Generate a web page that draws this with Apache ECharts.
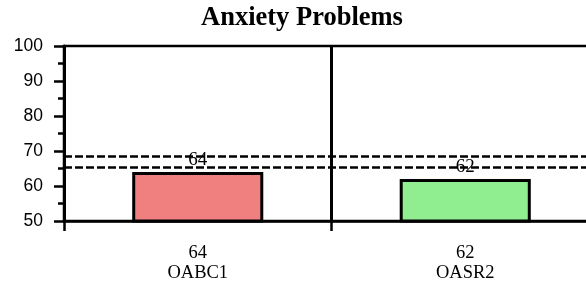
<!DOCTYPE html>
<html>
<head>
<meta charset="utf-8">
<script src="https://cdn.jsdelivr.net/npm/echarts@6/dist/echarts.min.js"></script>
<style>
html,body{margin:0;padding:0;background:#fff;}
#main{width:586px;height:287px;}
</style>
</head>
<body>
<div id="main"></div>
<script>
// data
var categories = ['OABC1', 'OASR2'];
var scores = [64, 62];
var barColors = ['#F08080', '#90EE90'];
var cutoffs = [65.5, 68.6];
var yTicks = [50, 60, 70, 80, 90, 100];

var chartDom = document.getElementById('main');
var myChart = echarts.init(chartDom);

var barData = [];
for (var i = 0; i < scores.length; i++) {
	barData.push({value: scores[i], itemStyle: {color: barColors[i]}});
}
var lines = [];
for (var j = 0; j < cutoffs.length; j++) {
	lines.push({yAxis: cutoffs[j]});
}

var option = {
	animation: false,
	title: {
		text: 'Anxiety Problems',
		left: 196,
		top: 0,
		textStyle: {
			fontFamily: 'Liberation Serif',
			fontWeight: 'bold',
			fontSize: 26.5,
			color: '#000'
		}
	},
	grid: {
		left: 64,
		top: 46,
		width: 535,
		bottom: 66,
		outerBoundsMode: 'none',
		containLabel: false,
		show: true,
		borderColor: '#000',
		borderWidth: 2.5,
		backgroundColor: 'transparent'
	},
	xAxis: {
		type: 'category',
		data: categories,
		axisLine: {lineStyle: {color: '#000', width: 2.5}},
		axisTick: {show: true, length: 10, lineStyle: {color: '#000', width: 2.5}},
		splitLine: {show: true, lineStyle: {color: '#000', width: 3}},
		axisLabel: {
			margin: 22,
			fontFamily: 'Liberation Serif',
			fontSize: 18.5,
			lineHeight: 20,
			color: '#000',
			formatter: function(val, idx) {
				return scores[idx] + '\n' + val;
			}
		}
	},
	yAxis: {
		type: 'value',
		min: yTicks[0],
		max: yTicks[yTicks.length - 1],
		interval: 10,
		axisLine: {show: true, lineStyle: {color: '#000', width: 3}},
		axisTick: {show: true, length: 10, lineStyle: {color: '#000', width: 2.5}},
		minorTick: {show: true, splitNumber: 2, length: 6, lineStyle: {color: '#000', width: 2.5}},
		splitLine: {show: false},
		axisLabel: {
			margin: 21,
			fontFamily: 'Liberation Sans',
			fontSize: 17.5,
			color: '#000'
		}
	},
	series: [
		{
			type: 'bar',
			barWidth: '49%',
			data: barData,
			itemStyle: {borderColor: '#000', borderWidth: 3},
			label: {
				show: true,
				position: 'top',
				distance: 2,
				fontFamily: 'Liberation Serif',
				fontSize: 19,
				color: '#000'
			},
			markLine: {
				silent: true,
				symbol: 'none',
				label: {show: false},
				lineStyle: {color: '#000', width: 2.5, type: [8, 3]},
				data: lines
			}
		}
	]
};
myChart.setOption(option);
</script>
</body>
</html>
